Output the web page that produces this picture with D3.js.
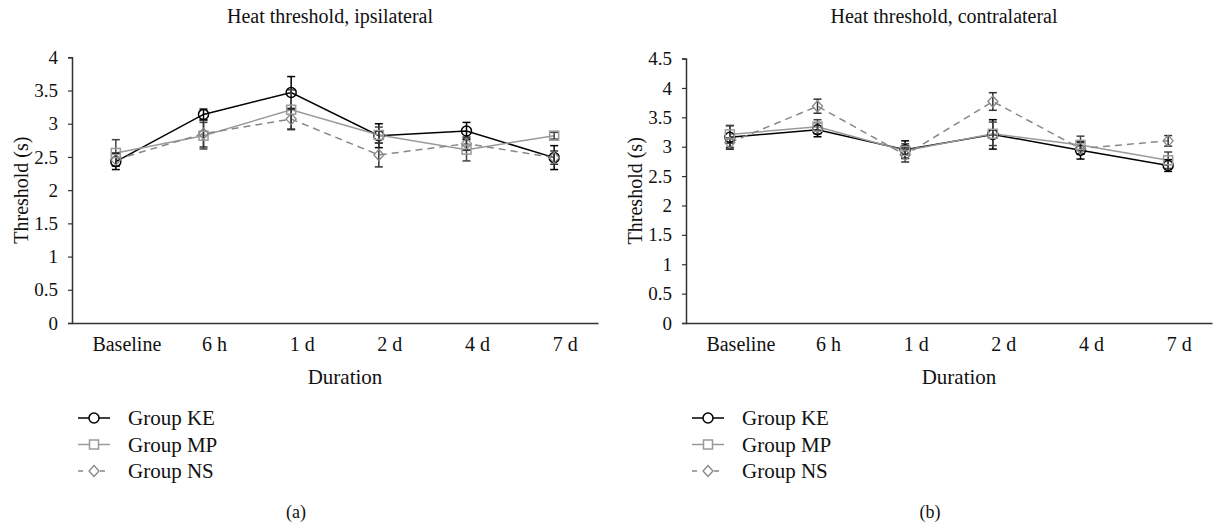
<!DOCTYPE html>
<html>
<head>
<meta charset="utf-8">
<script src="https://cdn.jsdelivr.net/npm/d3@7"></script>
<style>
  body { margin: 0; background: #fff; }
  svg text { font-family: "Liberation Serif", "Times New Roman", serif; fill: #111; }
</style>
</head>
<body>
<div id="chart"></div>
<script>
// categories on the x axis
var durations = ["Baseline", "6 h", "1 d", "2 d", "4 d", "7 d"]
var groups = ["Group KE", "Group MP", "Group NS"]

// ipsilateral means and error
var ipsiKE = [2.43, 3.14, 3.47, 2.82, 2.89, 2.49]
var ipsiKEerr = [0.12, 0.08, 0.24, 0.18, 0.13, 0.18]
var ipsiMP = [2.56, 2.82, 3.21, 2.83, 2.61, 2.82]
var ipsiMPerr = [0.2, 0.2, 0.3, 0.12, 0.17, 0.05]
var ipsiNS = [2.46, 2.85, 3.07, 2.53, 2.70, 2.49]
var ipsiNSerr = [0.1, 0.2, 0.15, 0.18, 0.1, 0.1]

// contralateral means and error
var contraKE = [3.16, 3.29, 2.95, 3.21, 2.94, 2.68]
var contraKEerr = [0.2, 0.12, 0.15, 0.25, 0.15, 0.1]
var contraMP = [3.21, 3.34, 2.93, 3.22, 3.03, 2.77]
var contraMPerr = [0.15, 0.12, 0.12, 0.2, 0.15, 0.14]
var contraNS = [3.07, 3.69, 2.86, 3.77, 2.97, 3.10]
var contraNSerr = [0.08, 0.12, 0.12, 0.15, 0.1, 0.09]

var ipsiTicks = [0, 0.5, 1, 1.5, 2, 2.5, 3, 3.5, 4]
var contraTicks = [0, 0.5, 1, 1.5, 2, 2.5, 3, 3.5, 4, 4.5]

var styles = [
    {color: "#000", marker: "circle", dash: null, err: "#000"},
    {color: "#9a9a9a", marker: "square", dash: null, err: "#444"},
    {color: "#888", marker: "diamond", dash: "7,5", err: "#333"}
]

var svg = d3.select("#chart").append("svg")
    .attr("width", 1213)
    .attr("height", 526)

function drawPanel(opt){
    var g = svg.append("g")
    var x = d3.scaleBand().domain(durations).range([opt.left, opt.right])
    var y = d3.scaleLinear().domain([0, opt.max]).range([opt.bottom, opt.top])
    var mid = (opt.left + opt.right) / 2

    // axes
    var yAxis = d3.axisLeft(y).tickValues(opt.ticks).tickSize(4).tickPadding(10)
        .tickFormat(function(d){ return d })
    var ya = g.append("g").attr("transform", "translate(" + opt.left + ",0)").call(yAxis)
    ya.select(".domain").attr("stroke", "#333").attr("stroke-width", 1.5)
    ya.selectAll(".tick line").attr("stroke", "#333").attr("stroke-width", 1.2)
    ya.selectAll("text").style("font-size", "19px").attr("fill", "#111")

    var xAxis = d3.axisBottom(x).tickSize(0).tickPadding(14)
    var xa = g.append("g").attr("transform", "translate(0," + opt.bottom + ")").call(xAxis)
    xa.select(".domain").attr("stroke", "#333").attr("stroke-width", 1.5)
    xa.selectAll("text").style("font-size", "20px").attr("dx", 11).attr("fill", "#111")

    // labels
    g.append("text").attr("x", mid - 5).attr("y", 23)
        .attr("text-anchor", "middle").style("font-size", "20px").text(opt.title)
    g.append("text").attr("x", mid + 10).attr("y", 384)
        .attr("text-anchor", "middle").style("font-size", "21px").text("Duration")
    g.append("text")
        .attr("transform", "translate(" + (opt.left - 44) + "," + ((opt.top + opt.bottom) / 2) + ") rotate(-90)")
        .attr("text-anchor", "middle").style("font-size", "20px").text("Threshold (s)")
    g.append("text").attr("x", opt.letterX).attr("y", 518)
        .attr("text-anchor", "middle").style("font-size", "18px").text(opt.letter)

    var cx = function(i){ return x(durations[i]) + x.bandwidth() / 2 }

    opt.series.forEach(function(s, k){
        var st = styles[k]
        var line = d3.line().x(function(d, i){ return cx(i) }).y(function(d){ return y(d) })
        g.append("path").datum(s.values)
            .attr("fill", "none").attr("stroke", st.color).attr("stroke-width", 1.5)
            .attr("stroke-dasharray", st.dash)
            .attr("d", line)
    })
    // error bars
    opt.series.forEach(function(s, k){
        var st = styles[k]
        s.values.forEach(function(v, i){
            var e = s.err[i]
            var eg = g.append("g").attr("stroke", st.err).attr("stroke-width", 1.5)
            eg.append("line").attr("x1", cx(i)).attr("x2", cx(i)).attr("y1", y(v - e)).attr("y2", y(v + e))
            eg.append("line").attr("x1", cx(i) - 4).attr("x2", cx(i) + 4).attr("y1", y(v - e)).attr("y2", y(v - e))
            eg.append("line").attr("x1", cx(i) - 4).attr("x2", cx(i) + 4).attr("y1", y(v + e)).attr("y2", y(v + e))
        })
    })
    // markers
    opt.series.forEach(function(s, k){
        s.values.forEach(function(v, i){
            drawMarker(g, styles[k], cx(i), y(v), "none")
        })
    })

    // legend
    groups.forEach(function(name, k){
        var st = styles[k]
        var ly = 418 + k * 26.5
        var lx = opt.left + 6
        g.append("line").attr("x1", lx).attr("x2", lx + 32).attr("y1", ly).attr("y2", ly)
            .attr("stroke", st.color).attr("stroke-width", 1.5)
            .attr("stroke-dasharray", st.dash ? "5,6" : null)
        drawMarker(g, st, lx + 16, ly, "#fff")
        g.append("text").attr("x", lx + 50).attr("y", ly + 7).style("font-size", "21px").text(name)
    })
}

function drawMarker(g, st, px, py, fill){
    if(st.marker == "circle"){
        g.append("circle").attr("cx", px).attr("cy", py).attr("r", 5)
            .attr("fill", fill).attr("stroke", st.color).attr("stroke-width", 1.5)
    } else if(st.marker == "square"){
        g.append("rect").attr("x", px - 4.5).attr("y", py - 4.5).attr("width", 9).attr("height", 9)
            .attr("fill", fill).attr("stroke", st.color).attr("stroke-width", 1.5)
    } else {
        g.append("path").attr("d", "M" + px + "," + (py - 5.5) + "L" + (px + 5) + "," + py + "L" + px + "," + (py + 5.5) + "L" + (px - 5) + "," + py + "Z")
            .attr("fill", fill).attr("stroke", st.color).attr("stroke-width", 1.3)
    }
}

drawPanel({
    left: 72, right: 598, top: 57.3, bottom: 323, max: 4, ticks: ipsiTicks,
    title: "Heat threshold, ipsilateral", letter: "(a)", letterX: 296,
    series: [
        {values: ipsiKE, err: ipsiKEerr},
        {values: ipsiMP, err: ipsiMPerr},
        {values: ipsiNS, err: ipsiNSerr}
    ]
})
drawPanel({
    left: 686, right: 1212, top: 58.6, bottom: 323, max: 4.5, ticks: contraTicks,
    title: "Heat threshold, contralateral", letter: "(b)", letterX: 930,
    series: [
        {values: contraKE, err: contraKEerr},
        {values: contraMP, err: contraMPerr},
        {values: contraNS, err: contraNSerr}
    ]
})
</script>
</body>
</html>
